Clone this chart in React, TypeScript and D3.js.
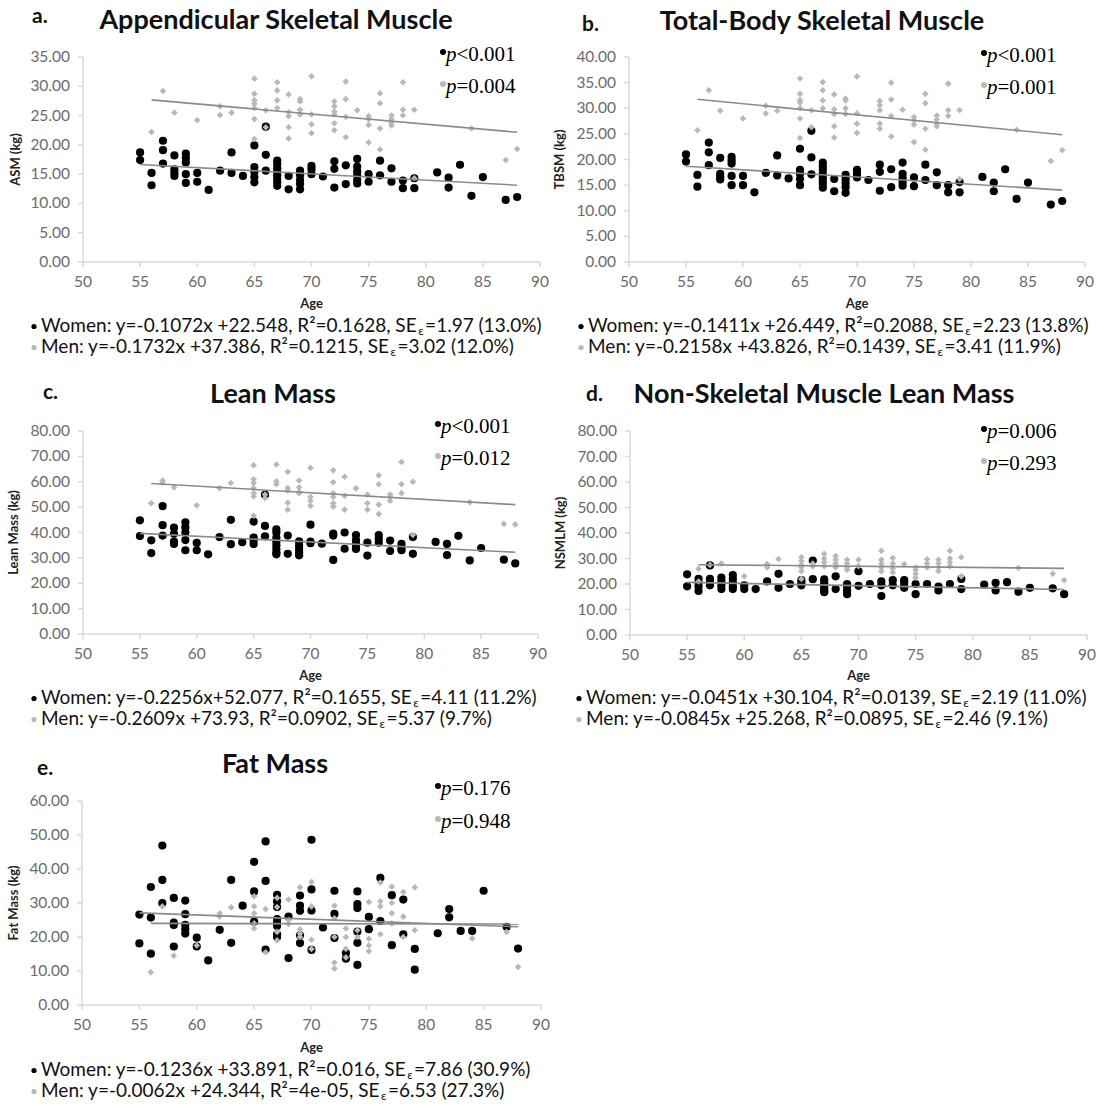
import React from 'react';
import * as d3 from 'd3';

type Pt = [number, number];

const xTicks = [50, 55, 60, 65, 70, 75, 80, 85, 90];

// ---- a. Appendicular Skeletal Muscle ----
const asmWomen: Pt[] = [
  [55,18.7],[55,17.4],[56,15.2],[56,13.1],[57,20.7],[57,19.1],[57,16.8],
  [58,18.2],[58,15.8],[58,15.2],[58,14.7],[59,18.5],[59,17.8],[59,17.0],[59,15.0],[59,13.5],
  [60,15.2],[60,13.7],[61,12.3],[62,15.6],[63,18.7],[63,15.2],[64,14.7],
  [65,19.9],[65,16.2],[65,15.4],[65,14.5],[65,13.6],[66,23.1],[66,18.3],[66,15.6],
  [67,17.3],[67,16.7],[67,16.0],[67,15.4],[67,14.8],[67,14.2],[67,13.6],[67,13.0],
  [68,14.7],[68,12.4],[69,15.6],[69,14.8],[69,14.0],[69,13.3],[69,12.4],
  [70,16.4],[70,15.8],[70,15.0],[71,14.6],[72,17.2],[72,15.9],[72,12.7],
  [73,16.5],[73,13.3],[74,17.6],[74,16.3],[74,15.5],[74,14.8],[74,14.0],[74,13.4],
  [75,15.0],[75,13.7],[76,17.3],[76,14.8],[77,16.0],[77,13.7],[78,13.9],[78,12.6],
  [79,14.3],[79,12.6],[81,15.3],[82,14.4],[82,12.7],[83,16.6],[84,11.3],[85,14.5],
  [87,10.6],[88,11.1],
];
const asmMen: Pt[] = [
  [56,22.2],[57,29.2],[58,25.5],[60,24.2],[62,26.6],[62,25.1],[63,25.5],
  [65,31.3],[65,28.7],[65,27.6],[65,27.0],[65,26.3],[65,24.4],[65,21.0],[66,25.9],[66,23.0],
  [67,30.7],[67,29.3],[67,27.6],[67,26.3],[68,28.6],[68,25.6],[68,24.9],[68,23.0],[68,21.1],
  [69,27.8],[69,27.4],[69,26.0],[69,25.2],[70,31.7],[70,25.2],[70,23.5],[70,22.0],
  [72,27.4],[72,26.6],[72,25.7],[72,25.2],[72,23.7],[72,22.5],[73,30.8],[73,27.8],[73,24.8],[73,21.3],
  [74,25.9],[75,24.9],[75,24.4],[75,23.4],[75,20.4],[76,28.8],[76,27.1],[76,22.8],[76,19.2],
  [77,25.0],[77,24.4],[77,23.8],[77,23.3],[78,30.7],[78,26.0],[78,25.0],[79,26.0],[79,14.3],
  [84,22.8],[87,17.4],[88,19.3],
];

// ---- b. Total-Body Skeletal Muscle ----
const tbsmWomen: Pt[] = [
  [55,21.0],[55,19.6],[56,17.0],[56,14.7],[57,23.3],[57,21.4],[57,18.9],
  [58,20.3],[58,17.2],[58,16.6],[58,16.1],[59,20.5],[59,19.8],[59,19.2],[59,16.8],[59,15.0],
  [60,16.8],[60,15.0],[61,13.6],[62,17.4],[63,20.8],[63,16.9],[64,16.3],
  [65,22.1],[65,18.0],[65,17.2],[65,16.2],[65,15.0],[66,25.6],[66,20.4],[66,17.1],
  [67,19.4],[67,18.7],[67,18.0],[67,17.2],[67,16.5],[67,15.8],[67,15.2],[67,14.5],
  [68,16.2],[68,13.8],[69,17.0],[69,16.2],[69,15.4],[69,14.6],[69,13.5],
  [70,18.0],[70,17.3],[70,16.5],[71,16.0],[72,19.0],[72,17.6],[72,13.9],
  [73,18.1],[73,14.6],[74,19.4],[74,17.2],[74,16.4],[74,15.6],[74,14.9],
  [75,16.5],[75,14.8],[76,19.0],[76,16.0],[77,17.5],[77,15.0],[78,15.0],[78,13.6],
  [79,15.6],[79,13.6],[81,16.6],[82,15.5],[82,13.8],[83,18.1],[84,12.3],[85,15.5],
  [87,11.2],[88,11.9],
];
const tbsmMen: Pt[] = [
  [56,25.7],[57,33.5],[58,29.5],[60,28.0],[62,30.5],[62,29.0],[63,29.5],
  [65,35.8],[65,32.8],[65,31.6],[65,31.1],[65,30.0],[65,28.0],[65,24.2],[66,29.6],[66,26.3],
  [67,35.1],[67,33.5],[67,31.5],[67,30.0],[68,32.7],[68,29.8],[68,28.9],[68,26.5],[68,24.3],
  [69,31.9],[69,31.5],[69,30.0],[69,28.9],[70,36.2],[70,29.0],[70,27.0],[70,25.2],
  [72,31.4],[72,30.6],[72,29.6],[72,27.0],[72,26.0],[73,35.0],[73,31.7],[73,28.5],[73,24.5],
  [74,29.7],[75,28.3],[75,27.6],[75,26.8],[75,23.4],[76,32.8],[76,31.0],[76,26.0],[76,21.9],
  [77,28.6],[77,27.8],[77,27.0],[77,26.5],[78,34.8],[78,29.6],[78,28.5],[79,29.6],[79,16.2],
  [84,25.8],[87,19.7],[88,21.8],
];

// ---- c. Lean Mass ----
const leanWomen: Pt[] = [
  [55,44.8],[55,38.6],[56,36.9],[56,31.9],[57,50.4],[57,42.9],[57,38.8],
  [58,41.9],[58,39.5],[58,36.4],[58,35.5],[59,44.0],[59,42.0],[59,40.0],[59,37.0],[59,33.0],
  [60,35.9],[60,33.0],[61,31.4],[62,38.2],[63,45.0],[63,35.4],[64,36.2],
  [65,44.3],[65,38.0],[65,37.0],[65,35.5],[66,54.8],[66,42.6],[66,38.5],
  [67,41.2],[67,40.0],[67,38.0],[67,36.5],[67,35.0],[67,33.5],[67,32.2],[67,31.4],
  [68,38.8],[68,31.6],[69,36.5],[69,35.0],[69,33.5],[69,32.2],[69,31.0],
  [70,43.1],[70,36.4],[70,35.8],[71,35.6],[72,39.6],[72,38.8],[72,29.2],
  [73,40.0],[73,33.6],[74,39.0],[74,37.0],[74,35.5],[74,34.0],[74,33.5],
  [75,36.0],[75,30.9],[76,39.0],[76,37.5],[76,36.0],[77,36.8],[77,32.7],
  [78,35.5],[78,34.0],[78,33.0],[79,38.2],[79,31.6],[81,36.3],[82,35.5],[82,31.1],
  [83,38.7],[84,29.0],[85,33.9],[87,29.3],[88,27.8],
];
const leanMen: Pt[] = [
  [56,51.5],[57,60.5],[57,59.5],[58,57.8],[60,50.7],[62,57.5],[63,59.5],
  [65,66.5],[65,61.0],[65,59.5],[65,57.5],[65,55.5],[65,54.2],[65,46.6],[66,55.0],[66,53.6],
  [67,66.8],[67,60.2],[67,59.0],[68,63.9],[68,57.5],[68,56.5],[68,51.7],[68,49.0],
  [69,60.5],[69,57.8],[69,56.0],[69,55.5],[70,65.5],[70,54.0],[70,52.5],[70,50.5],
  [72,64.5],[72,59.8],[72,55.5],[72,54.0],[72,51.5],[72,50.2],[73,62.0],[73,54.5],[73,49.0],
  [74,57.4],[75,55.0],[75,51.5],[75,49.0],[76,62.5],[76,59.0],[76,51.0],[76,47.3],
  [77,55.0],[77,54.0],[77,52.5],[78,67.8],[78,59.0],[78,55.5],[79,60.0],[79,39.0],
  [84,51.9],[87,43.4],[88,43.2],
];

// ---- d. Non-Skeletal Muscle Lean Mass ----
const nsmlmWomen: Pt[] = [
  [55,23.8],[55,19.1],[56,22.0],[56,20.5],[56,19.0],[56,17.3],[57,27.3],[57,22.0],[57,20.5],[57,19.5],
  [58,22.5],[58,21.0],[58,19.5],[58,18.0],[59,23.5],[59,22.0],[59,20.5],[59,19.0],[59,18.0],
  [60,19.5],[60,18.0],[61,18.0],[62,21.0],[63,24.0],[63,18.5],[64,20.0],
  [65,21.5],[65,20.5],[65,19.5],[66,29.2],[66,21.9],
  [67,21.8],[67,20.5],[67,19.5],[67,18.5],[67,17.5],[67,16.8],[68,23.0],[68,18.0],
  [69,20.0],[69,19.0],[69,17.5],[69,16.0],[70,25.0],[70,19.3],[71,20.0],
  [72,21.0],[72,19.5],[72,15.3],[73,21.5],[73,19.5],[74,21.5],[74,20.5],[74,19.0],[74,18.5],
  [75,20.0],[75,16.0],[76,20.0],[77,19.0],[77,17.5],[78,20.0],[79,22.0],[79,18.0],
  [81,19.8],[82,20.5],[82,17.5],[83,20.7],[84,17.0],[85,18.5],[87,18.3],[88,16.0],
];
const nsmlmMen: Pt[] = [
  [56,26.0],[56,21.0],[57,27.5],[58,28.0],[60,23.0],[62,27.8],[62,26.5],[63,29.8],
  [65,30.5],[65,29.0],[65,27.5],[65,26.5],[65,25.0],[65,22.0],[66,28.0],[66,27.0],
  [67,31.8],[67,30.0],[67,28.5],[67,27.0],[68,31.0],[68,29.5],[68,28.0],[68,26.5],
  [69,29.5],[69,28.0],[69,26.5],[69,25.5],[70,29.5],[70,27.0],
  [72,33.0],[72,29.5],[72,28.0],[72,26.5],[72,25.0],[73,30.2],[73,28.0],[73,26.0],[73,24.5],
  [74,27.8],[75,26.5],[75,25.5],[75,24.0],[75,22.5],[76,29.7],[76,28.0],[76,26.5],
  [77,29.5],[77,28.0],[77,26.5],[77,25.0],[78,33.0],[78,30.0],[78,28.5],[78,27.0],
  [79,30.5],[79,23.0],[84,26.3],[87,24.0],[88,21.5],
];

// ---- e. Fat Mass ----
const fatWomen: Pt[] = [
  [55,26.6],[55,18.1],[56,34.7],[56,25.7],[56,15.1],[57,46.9],[57,36.8],[57,30.0],
  [58,31.5],[58,24.2],[58,23.5],[58,17.2],[59,30.7],[59,26.7],[59,23.6],[59,22.3],[59,21.0],
  [60,19.8],[60,17.2],[61,13.1],[62,22.1],[63,36.8],[63,18.3],[64,29.2],
  [65,42.1],[65,33.4],[65,24.5],[66,48.1],[66,36.5],[66,16.3],
  [67,32.4],[67,30.5],[67,28.8],[67,25.3],[67,24.2],[67,23.2],[67,20.8],[67,20.0],
  [68,26.0],[68,13.8],[69,32.2],[69,29.2],[69,27.7],[69,20.5],[69,18.2],
  [70,48.6],[70,34.0],[70,27.8],[70,16.2],[71,22.8],[72,33.6],[72,26.8],[72,19.7],
  [73,15.3],[73,13.6],[74,33.4],[74,29.7],[74,28.5],[74,21.6],[74,18.3],[74,11.8],
  [75,25.9],[75,22.3],[76,37.4],[76,24.7],[77,32.3],[77,17.6],[78,31.0],[78,20.8],
  [79,16.5],[79,10.4],[81,21.1],[82,28.2],[82,25.8],[83,21.8],[84,21.8],[85,33.6],
  [87,23.0],[88,16.6],
];
const fatMen: Pt[] = [
  [56,9.6],[57,29.0],[58,14.5],[60,17.5],[62,27.0],[62,26.0],[63,28.7],
  [65,32.0],[65,29.0],[65,27.0],[65,24.0],[65,22.5],[66,28.2],[66,15.5],
  [67,31.5],[67,28.8],[67,21.5],[67,19.0],[68,31.0],[68,25.0],[68,23.8],
  [69,34.6],[69,22.3],[69,21.0],[69,20.0],[70,36.2],[70,29.0],[70,19.2],[70,16.5],
  [72,29.2],[72,25.5],[72,20.0],[72,12.5],[72,10.7],[73,22.5],[73,20.0],[73,16.5],[73,14.0],
  [74,22.0],[74,20.0],[75,30.3],[75,19.5],[75,17.5],[75,15.8],[76,36.0],[76,30.5],[76,29.0],[76,20.8],
  [77,34.8],[77,30.0],[77,27.0],[77,24.0],[78,33.2],[78,26.0],[78,20.0],[79,34.6],[79,22.0],
  [84,19.6],[87,21.5],[88,11.2],
];

// Regression lines [slope, intercept] as drawn in each panel
const asmFitW: Pt = [-0.1072, 22.548];
const asmFitM: Pt = [-0.1732, 37.386];
const tbsmFitW: Pt = [-0.1411, 26.449];
const tbsmFitM: Pt = [-0.2158, 43.826];
const leanFitW: Pt = [-0.2256, 52.077];
const leanFitM: Pt = [-0.2609, 73.93];
const nsmlmFitLow: Pt = [-0.0845, 25.268];
const nsmlmFitHigh: Pt = [-0.0451, 30.104];
const fatFitW: Pt = [-0.1236, 33.891];
const fatFitM: Pt = [-0.0062, 24.344];

// Titles, labels and stats text
const panelLetters = ['a.', 'b.', 'c.', 'd.', 'e.'];
const panelTitles = ['Appendicular Skeletal Muscle', 'Total-Body Skeletal Muscle', 'Lean Mass', 'Non-Skeletal Muscle Lean Mass', 'Fat Mass'];
const yTitles = ['ASM (kg)', 'TBSM (kg)', 'Lean Mass (kg)', 'NSMLM (kg)', 'Fat Mass (kg)'];
const yMaxes = [35, 40, 80, 80, 60];
const ySteps = [5, 5, 10, 10, 10];
const pWomen = ['<0.001', '<0.001', '<0.001', '=0.006', '=0.176'];
const pMen = ['=0.004', '=0.001', '=0.012', '=0.293', '=0.948'];
const eqWomen = ['y=-0.1072x +22.548', 'y=-0.1411x +26.449', 'y=-0.2256x+52.077', 'y=-0.0451x +30.104', 'y=-0.1236x +33.891'];
const r2Women = ['0.1628', '0.2088', '0.1655', '0.0139', '0.016'];
const seWomen = ['1.97 (13.0%)', '2.23 (13.8%)', '4.11 (11.2%)', '2.19 (11.0%)', '7.86 (30.9%)'];
const eqMen = ['y=-0.1732x +37.386', 'y=-0.2158x +43.826', 'y=-0.2609x +73.93', 'y=-0.0845x +25.268', 'y=-0.0062x +24.344'];
const r2Men = ['0.1215', '0.1439', '0.0902', '0.0895', '4e-05'];
const seMen = ['3.02 (12.0%)', '3.41 (11.9%)', '5.37 (9.7%)', '2.46 (9.1%)', '6.53 (27.3%)'];

const womenSets = [asmWomen, tbsmWomen, leanWomen, nsmlmWomen, fatWomen];
const menSets = [asmMen, tbsmMen, leanMen, nsmlmMen, fatMen];
const womenFits = [asmFitW, tbsmFitW, leanFitW, nsmlmFitLow, fatFitW];
const menFits = [asmFitM, tbsmFitM, leanFitM, nsmlmFitHigh, fatFitM];

// Layout (pixel frames)
const frames = [
  { left: 83, right: 540, top: 57, bottom: 262, legX: 31, oy: 0 },
  { left: 629, right: 1085, top: 57, bottom: 262, legX: 578, oy: 0 },
  { left: 83, right: 538, top: 431, bottom: 634, legX: 31, oy: 372 },
  { left: 630, right: 1087, top: 431, bottom: 635, legX: 576, oy: 372 },
  { left: 82, right: 541, top: 801, bottom: 1005, legX: 31, oy: 744 },
];

const SANS = 'Lato, "Open Sans", "DejaVu Sans", sans-serif';
const SERIF = '"Liberation Serif", "Times New Roman", serif';
const AXIS = '#d9d9d9';
const TICKTXT = '#6b6b6b';
const MEN = '#b8b8b8';
const FIT = '#8a8a8a';

function Panel({ i }: { i: number }) {
  const f = frames[i];
  const x = d3.scaleLinear().domain([50, 90]).range([f.left, f.right]);
  const y = d3.scaleLinear().domain([0, yMaxes[i]]).range([f.bottom, f.top]);
  const yTicks = d3.range(0, yMaxes[i] + 0.001, ySteps[i]);
  const fmt = d3.format('.2f');
  const line = d3.line<Pt>().x((d) => x(d[0])).y((d) => y(d[1]));
  const fitPts = (set: Pt[], fit: Pt): Pt[] => {
    const [a, b] = d3.extent(set, (d) => d[0]) as [number, number];
    return [[a, fit[0] * a + fit[1]], [b, fit[0] * b + fit[1]]];
  };
  const cx = (f.left + f.right) / 2;
  const titleX = [276, 822, 273, 824, 275][i];
  const letterX = [32, 582, 43, 586, 37][i];
  const letterY = [23, 31, 399, 401, 775][i];
  const titleY = [29, 30, 403, 403, 773][i];
  const pX = [440, 981, 435, 981, 435][i];
  const pY1 = [61, 62, 433, 438, 795][i];
  const pY2 = [93, 94, 465, 470, 828][i];
  const yTitleX = [20, 564, 18, 565, 18][i];
  const legX = f.legX;
  const ageY = f.oy + 308;
  const leg1 = f.oy + 332;
  const leg2 = f.oy + 353;
  const diamond = (px: number, py: number, r: number) =>
    `M${px},${py - r}L${px + r},${py}L${px},${py + r}L${px - r},${py}Z`;

  const legendLine = (yy: number, who: string, eq: string, r2: string, se: string, col: string) => (
    <g>
      <circle cx={legX + 3} cy={yy - 5.5} r={2.6} fill={col} />
      <text x={legX + 10} y={yy} fontFamily={SANS} fontSize={19} fill="#111">
        <tspan>{`${who}: ${eq}, R²=${r2}, SE`}</tspan>
        <tspan dx={1.5} dy={3} fontSize={12}>ε</tspan>
        <tspan dx={1.5} dy={-3}>{`=${se}`}</tspan>
      </text>
    </g>
  );

  return (
    <g>
      <text x={letterX} y={letterY} fontFamily={SANS} fontWeight={700} fontSize={21} fill="#111">{panelLetters[i]}</text>
      <text x={titleX} y={titleY} textAnchor="middle" fontFamily={SANS} fontWeight={700} fontSize={27} fill="#111">{panelTitles[i]}</text>
      {/* axes */}
      <line x1={f.left} x2={f.left} y1={f.top} y2={f.bottom} stroke={AXIS} strokeWidth={1.5} />
      <line x1={f.left} x2={f.right} y1={f.bottom} y2={f.bottom} stroke={AXIS} strokeWidth={1.5} />
      {yTicks.map((t) => (
        <g key={'y' + t}>
          <line x1={f.left - 5} x2={f.left} y1={y(t)} y2={y(t)} stroke={AXIS} strokeWidth={1.5} />
          <text x={f.left - 13} y={y(t) + 5} textAnchor="end" fontFamily={SANS} fontSize={15.5} fill={TICKTXT}>{fmt(t)}</text>
        </g>
      ))}
      {xTicks.map((t) => (
        <g key={'x' + t}>
          <line x1={x(t)} x2={x(t)} y1={f.bottom} y2={f.bottom + 5} stroke={AXIS} strokeWidth={1.5} />
          <text x={x(t)} y={f.bottom + 25} textAnchor="middle" fontFamily={SANS} fontSize={15.5} fill={TICKTXT}>{t}</text>
        </g>
      ))}
      <text transform={`translate(${yTitleX},${(f.top + f.bottom) / 2}) rotate(-90)`} textAnchor="middle" fontFamily={SANS} fontWeight={700} fontSize={13} fill="#222">{yTitles[i]}</text>
      <text x={cx} y={ageY} textAnchor="middle" fontFamily={SANS} fontWeight={700} fontSize={13} fill="#222">Age</text>
      {/* points */}
      {womenSets[i].map((d, k) => (
        <circle key={'w' + k} cx={x(d[0])} cy={y(d[1])} r={4.1} fill="#000" />
      ))}
      {menSets[i].map((d, k) => (
        <path key={'m' + k} d={diamond(x(d[0]), y(d[1]), 3.3)} fill={MEN} />
      ))}
      {/* fits */}
      <path d={line(fitPts(womenSets[i], womenFits[i])) || ''} stroke={FIT} strokeWidth={1.6} fill="none" />
      <path d={line(fitPts(menSets[i], menFits[i])) || ''} stroke={FIT} strokeWidth={1.6} fill="none" />
      {/* p values */}
      <circle cx={pX + 3} cy={pY1 - 9} r={3} fill="#000" />
      <text x={pX + 6} y={pY1} fontFamily={SERIF} fontSize={21} fill="#000">
        <tspan fontStyle="italic">p</tspan>
        {pWomen[i]}
      </text>
      <circle cx={pX + 3} cy={pY2 - 9} r={3} fill={MEN} />
      <text x={pX + 6} y={pY2} fontFamily={SERIF} fontSize={21} fill="#000">
        <tspan fontStyle="italic">p</tspan>
        {pMen[i]}
      </text>
      {/* legend */}
      {legendLine(leg1, 'Women', eqWomen[i], r2Women[i], seWomen[i], '#000')}
      {legendLine(leg2, 'Men', eqMen[i], r2Men[i], seMen[i], MEN)}
    </g>
  );
}

export default function App() {
  return (
    <svg width={1113} height={1108} style={{ position: 'absolute', left: 0, top: 0, background: '#fff' }}>
      <rect width={1113} height={1108} fill="#fff" />
      {[0, 1, 2, 3, 4].map((i) => (
        <Panel key={i} i={i} />
      ))}
    </svg>
  );
}
